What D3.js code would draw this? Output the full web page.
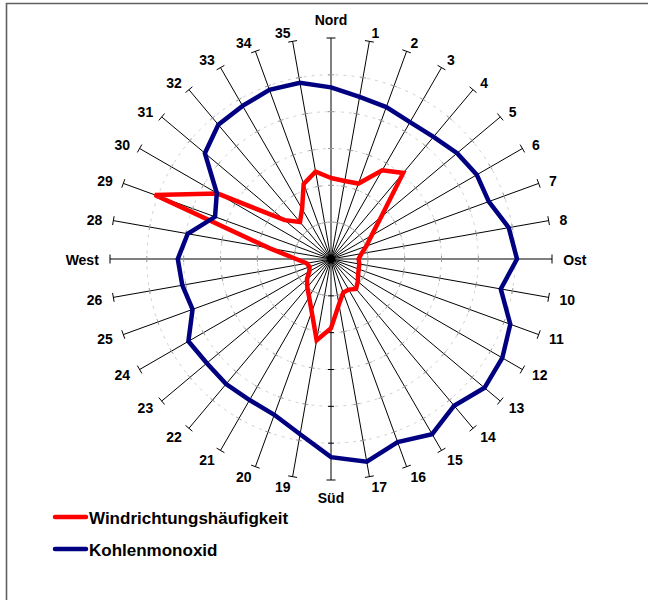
<!DOCTYPE html>
<html>
<head>
<meta charset="utf-8">
<script src="https://cdn.jsdelivr.net/npm/d3@7"></script>
<style>
  html, body { margin: 0; padding: 0; background: #fff; }
  svg { display: block; }
</style>
</head>
<body>
<svg id="chart" width="648" height="600"></svg>
<script>
// Wind directions in 10° steps, clockwise from north
const directions = [
  "Nord", "1", "2", "3", "4", "5", "6", "7", "8",
  "Ost", "10", "11", "12", "13", "14", "15", "16", "17",
  "Süd", "19", "20", "21", "22", "23", "24", "25", "26",
  "West", "28", "29", "30", "31", "32", "33", "34", "35"
];

// Frequency of wind direction
const windFrequency = [
  2.20, 2.15, 2.18, 2.78, 3.05, 1.78, 1.27, 1.02, 0.84,
  0.75, 0.78, 0.80, 0.85, 0.95, 1.06, 0.96, 0.97, 1.25,
  1.88, 2.24, 1.53, 1.19, 1.00, 0.85, 0.68, 0.62, 0.67,
  0.95, 1.70, 5.09, 3.55, 1.64, 1.31, 1.57, 2.17, 2.41
];

// Carbon monoxide concentration per direction
const carbonMonoxide = [
  4.66, 4.47, 4.39, 4.29, 4.33, 4.47, 4.57, 4.56, 4.90,
  5.05, 4.68, 5.18, 5.37, 5.44, 5.20, 5.49, 5.29, 5.59,
  5.38, 4.83, 4.50, 4.42, 4.43, 4.40, 4.47, 4.00, 4.10,
  4.16, 3.95, 3.35, 3.58, 4.47, 4.76, 4.80, 4.89, 4.86
];

const radialTicks = [1, 2, 3, 4, 5, 6];

const seriesNames = ["Windrichtungshäufigkeit", "Kohlenmonoxid"];
const seriesColors = ["#ff0000", "#000080"];

const svg = d3.select("#chart");
const cx = 331, cy = 259, outer = 221;

const angle = d3.scaleLinear().domain([0, directions.length]).range([0, 2 * Math.PI]);
const r = d3.scaleLinear().domain([0, 6]).range([0, outer]);

// point for a direction index at a given value
const pos = (i, v) => {
  const a = angle(i);
  return [cx + r(v) * Math.sin(a), cy - r(v) * Math.cos(a)];
};

// outer frame (left and top edge)
svg.append("path")
  .attr("d", "M6.5,600 L6.5,3.5 L648,3.5")
  .attr("fill", "none")
  .attr("stroke", "#606060")
  .attr("stroke-width", 1.6);

const g = svg.append("g");

// dashed circular gridlines
g.selectAll("circle.grid")
  .data(radialTicks.slice(0, -1))
  .join("circle")
  .attr("class", "grid")
  .attr("cx", cx).attr("cy", cy)
  .attr("r", d => r(d))
  .attr("fill", "none")
  .attr("stroke", "#c4c4c4")
  .attr("stroke-width", 0.8)
  .attr("stroke-dasharray", "3,5");

// spokes
const spokes = g.selectAll("g.spoke")
  .data(directions)
  .join("g")
  .attr("class", "spoke");

spokes.append("line")
  .attr("x1", cx).attr("y1", cy)
  .attr("x2", (d, i) => pos(i, 6)[0])
  .attr("y2", (d, i) => pos(i, 6)[1])
  .attr("stroke", (d, i) => (i === 9 || i === 27) ? "#555" : "#000")
  .attr("stroke-width", (d, i) => (i === 9 || i === 27) ? 1.6 : 1);

// tick marks across each spoke
spokes.each(function (d, i) {
  const a = angle(i);
  const px = Math.cos(a), py = Math.sin(a); // perpendicular direction
  const sel = d3.select(this);
  radialTicks.forEach(t => {
    const [x, y] = pos(i, t);
    const half = t === 6 ? 4.5 : 3;
    sel.append("line")
      .attr("x1", x - px * half).attr("y1", y - py * half)
      .attr("x2", x + px * half).attr("y2", y + py * half)
      .attr("stroke", t === 6 || i === 18 ? "#000" : "#999")
      .attr("stroke-width", 1);
  });
});

// centre hub where all spokes meet
g.append("circle").attr("cx", cx).attr("cy", cy).attr("r", 4).attr("fill", "#000");

// direction labels
const labels = g.selectAll("text.dir")
  .data(directions)
  .join("text")
  .attr("class", "dir")
  .attr("font-family", "Liberation Sans, Arial, sans-serif")
  .attr("font-size", 14)
  .attr("font-weight", "bold")
  .attr("text-anchor", "middle")
  .attr("dominant-baseline", "central")
  .text(d => d);

labels.each(function (d, i) {
  const w = this.getBBox().width;
  const a = angle(i);
  const s = Math.sin(a), c = Math.cos(a);
  const [x, y] = pos(i, 6);
  let dx, dy;
  if (Math.abs(s) < 1e-6) {
    // labels straight above / below the centre
    dx = 0;
    dy = -c * 18;
  } else {
    dx = s * 11 + Math.sign(s) * w / 2;
    dy = -c * 9.8 + 1;
  }
  d3.select(this).attr("x", x + dx).attr("y", y + dy);
});

// data series
const radial = d3.lineRadial()
  .angle((d, i) => angle(i))
  .radius(d => r(d))
  .curve(d3.curveLinearClosed);

const series = [windFrequency, carbonMonoxide];
g.selectAll("path.series")
  .data(series)
  .join("path")
  .attr("class", "series")
  .attr("transform", `translate(${cx},${cy})`)
  .attr("d", d => radial(d))
  .attr("fill", "none")
  .attr("stroke", (d, i) => seriesColors[i])
  .attr("stroke-width", 4.5)
  .attr("stroke-linejoin", "miter");

// legend
const legend = svg.append("g").attr("transform", "translate(55,517)");
const items = legend.selectAll("g")
  .data(seriesNames)
  .join("g")
  .attr("transform", (d, i) => `translate(0,${i * 32})`);
items.append("line")
  .attr("x1", 0).attr("x2", 31).attr("y1", 0).attr("y2", 0)
  .attr("stroke", (d, i) => seriesColors[i])
  .attr("stroke-width", 4.5)
  .attr("stroke-linecap", "round");
items.append("text")
  .attr("x", 34).attr("y", 1)
  .attr("dominant-baseline", "central")
  .attr("font-family", "Liberation Sans, Arial, sans-serif")
  .attr("font-size", 17)
  .attr("font-weight", "bold")
  .text(d => d);
</script>
</body>
</html>
